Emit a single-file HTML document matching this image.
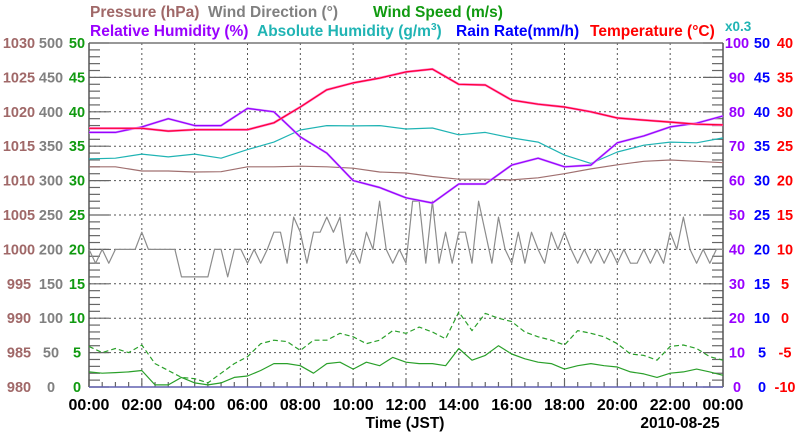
<!DOCTYPE html>
<html><head><meta charset="utf-8">
<style>
html,body{margin:0;padding:0;background:#fff;}
svg{display:block;font-family:"Liberation Sans",Arial,sans-serif;font-weight:bold;}
</style></head>
<body>
<svg id="chart" width="800" height="434" viewBox="0 0 800 434" xmlns="http://www.w3.org/2000/svg">
  <g font-size="15.5">
    <text x="90" y="17" fill="#a06868">Pressure (hPa)</text>
    <text x="208" y="17" fill="#808080">Wind Direction (°)</text>
    <text x="373" y="17" fill="#109a10">Wind Speed (m/s)</text>
    <text x="90" y="36" fill="#9900ff">Relative Humidity (%)</text>
    <text x="257" y="36" fill="#20b4b4">Absolute Humidity (g/m<tspan font-size="10" dy="-6">3</tspan><tspan dy="6">)</tspan></text>
    <text x="456" y="36" fill="#0000ff">Rain Rate(mm/h)</text>
    <text x="590" y="36" fill="#ff0000">Temperature (°C)</text>
    <text x="725" y="31" fill="#20b4b4" font-size="13.5">x0.3</text>
  </g>
  <g id="grid"></g>
  <g id="ticks"></g>
  <g id="series"></g>
  <g id="labels" font-size="14.5"></g>
  <text x="405" y="428" text-anchor="middle" font-size="15.5" fill="#000">Time (JST)</text>
  <text x="680" y="428" text-anchor="middle" font-size="15.5" fill="#000">2010-08-25</text>
</svg>
<script>
// ---- data (hourly for smooth series, 30-min for wind speed, 15-min for direction) ----
const hours = [0,1,2,3,4,5,6,7,8,9,10,11,12,13,14,15,16,17,18,19,20,21,22,23,24];
const temperature = [27.6,27.6,27.6,27.2,27.4,27.4,27.4,28.4,30.7,33.2,34.2,34.9,35.8,36.2,34.0,33.9,31.7,31.1,30.7,30.0,29.1,28.8,28.5,28.2,28.1];
const pressure = [1012.0,1012.0,1011.4,1011.4,1011.25,1011.3,1012.0,1012.0,1012.1,1012.0,1011.8,1011.25,1011.1,1010.6,1010.2,1010.2,1010.1,1010.4,1011.0,1011.7,1012.3,1012.8,1013.0,1012.8,1012.6];
const relHumidity = [74,74,75.6,78,76,76,81,80,72.7,68,60,58,55,53.5,59,59,64.5,66.5,64,64.5,71,73,75.6,76.7,78.8];
const absHumidityScaled = [66.3,66.5,67.7,66.9,67.7,66.5,69,71.2,74.7,76,75.9,76,75,75.3,73.3,74,72.4,71.2,67.4,65,68.3,70.3,71.2,71,72.4];
const windAvg = [2.2,2.0,2.1,2.2,2.4,0.3,0.3,1.4,0.6,0.3,0.6,1.4,1.6,2.4,3.4,3.4,3.1,2.0,3.4,3.6,2.6,3.6,3.1,4.3,3.6,3.4,3.4,3.1,5.6,3.9,4.6,6.0,4.8,4.1,3.6,3.4,2.6,3.1,3.4,3.1,2.9,2.2,1.9,1.4,2.0,2.2,2.6,2.2,1.7];
const windGust = [5.9,5.0,5.6,5.0,6.1,3.4,2.4,1.4,1.2,0.6,2.0,3.4,4.4,6.3,6.8,6.6,5.3,6.8,6.8,7.8,7.3,6.3,6.8,8.2,7.8,8.7,8.0,7.0,10.9,8.2,10.7,10.0,9.5,8.0,7.3,6.8,6.1,8.2,7.8,7.3,6.3,4.8,4.6,3.9,5.9,6.1,5.6,4.4,3.9];
const windDir = [200,180,200,180, 200,200,200,200, 225,200,200,200, 200,200,160,160, 160,160,160,200,
  200,160,200,200, 180,200,180,200, 225,225,180,247, 225,180,225,225, 247,225,247,180,
  200,180,225,200, 270,200,180,200, 180,270,270,180, 270,180,225,180, 225,225,180,270,
  225,180,247,200, 180,225,180,225, 200,180,225,200, 225,200,180,200, 180,200,180,200,
  180,200,180,180, 200,180,200,180, 225,200,247,200, 180,200,180,200, 200];
const xTickLabels = ["00:00","02:00","04:00","06:00","08:00","10:00","12:00","14:00","16:00","18:00","20:00","22:00","00:00"];
const pressureTicks = ["980","985","990","995","1000","1005","1010","1015","1020","1025","1030"];
const dirTicks = ["0","50","100","150","200","250","300","350","400","450","500"];
const speedTicks = ["0","5","10","15","20","25","30","35","40","45","50"];
const rhTicks = ["0","10","20","30","40","50","60","70","80","90","100"];
const rainTicks = ["0","5","10","15","20","25","30","35","40","45","50"];
const tempTicks = ["-10","-5","0","5","10","15","20","25","30","35","40"];

// ---- layout ----
const L=89, R=723, T=43, B=387;
const NS="http://www.w3.org/2000/svg";
const X = h => L + h*(R-L)/24;
const Yf = f => B - f*(B-T);
const yP = v => Yf((v-980)/50);
const yDir = v => Yf(v/500);
const ySpd = v => Yf(v/50);
const yRH = v => Yf(v/100);
const yT = v => Yf((v+10)/50);
function mk(tag, attrs, parent){const e=document.createElementNS(NS,tag);for(const k in attrs)e.setAttribute(k,attrs[k]);parent.appendChild(e);return e;}
const grid=document.getElementById('grid'), ticks=document.getElementById('ticks'), series=document.getElementById('series'), labels=document.getElementById('labels');

for(let k=1;k<10;k++){const y=Yf(k/10);
  const g=mk('line',{x1:L,x2:R,y1:y,y2:y,stroke:'#555','stroke-dasharray':'2,3','stroke-width':1},grid);
  
  }
for(let k=1;k<12;k++){const x=X(2*k);
  const g=mk('line',{x1:x,x2:x,y1:T,y2:B,stroke:'#555','stroke-dasharray':'2,3','stroke-width':1},grid);
  
  }
for(let k=0;k<=50;k++){const y=Yf(k/50);const len=(k%5==0)?20:11;
  mk('line',{x1:L,x2:L+len,y1:y,y2:y,stroke:'#666','stroke-width':1.2},ticks);
  mk('line',{x1:R,x2:R-len,y1:y,y2:y,stroke:'#666','stroke-width':1.2},ticks);}
for(let k=0;k<=48;k++){const x=X(k/2);const len=(k%4==0)?8:5;
  mk('line',{x1:x,x2:x,y1:B,y2:B-len,stroke:'#666','stroke-width':1.2},ticks);}
const ax=[[L,T,R,T,'#777','top-axis'],[L,T,L,B,'#555','left-axis'],[R,T,R,B,'#555','right-axis'],[L,B,R,B,'#6060b0','x-axis']];
ax.forEach(a=>{const e=mk('line',{x1:a[0],y1:a[1],x2:a[2],y2:a[3],stroke:a[4],'stroke-width':1.5},ticks);
  
  });

function poly(xs, ys, color, name, extra){
  const pts=xs.map((x,i)=>x.toFixed(1)+','+ys[i].toFixed(1)).join(' ');
  const e=mk('polyline',Object.assign({points:pts,fill:'none',stroke:color,'stroke-width':1.2,'stroke-linejoin':'round'},extra||{}),series);
  
  
  return e;}
const hx = hours.map(X);
const hh = windAvg.map((_,i)=>X(i/2));
const qx = windDir.map((_,i)=>X(i/4));
poly(qx, windDir.map(yDir), '#8c8c8c', 'wind-direction-line');
poly(hh, windGust.map(ySpd), '#2aa02a', 'wind-gust-line', {'stroke-dasharray':'5,3'});
poly(hh, windAvg.map(ySpd), '#2aa02a', 'wind-speed-line');
poly(hx, pressure.map(yP), '#a07070', 'pressure-line');
poly(hx, absHumidityScaled.map(yRH), '#20b4b4', 'absolute-humidity-line');
poly(hx, relHumidity.map(yRH), '#d090ff', 'relative-humidity-shadow', {'stroke-width':2.2});
poly(hx, relHumidity.map(yRH), '#9900ff', 'relative-humidity-line');
poly(hx, temperature.map(yT), '#ff70d0', 'temperature-shadow', {'stroke-width':2.4});
poly(hx, temperature.map(yT), '#ff0030', 'temperature-line');

function txt(x,y,s,color,anchor,name,fs){const e=mk('text',{x:x,y:y,fill:color,'text-anchor':anchor},labels);e.textContent=s;
  if(fs)e.setAttribute('font-size',fs);
  
  }
for(let k=0;k<=10;k++){const y=Yf(k/10)+5;
  txt(19,y,pressureTicks[k],'#a06868','middle','pressure-tick-label');
  txt(51,y,dirTicks[k],'#808080','middle','wind-direction-tick-label');
  txt(77,y,speedTicks[k],'#109a10','middle','wind-speed-tick-label');
  txt(737,y,rhTicks[k],'#9900ff','middle','humidity-tick-label');
  txt(762,y,rainTicks[k],'#0000ff','middle','rain-tick-label');
  txt(785,y,tempTicks[k],'#ff0000','middle','temperature-tick-label');}
xTickLabels.forEach((s,i)=>txt(X(2*i),410,s,'#000','middle','x-tick-label','16'));
</script>
</body></html>
